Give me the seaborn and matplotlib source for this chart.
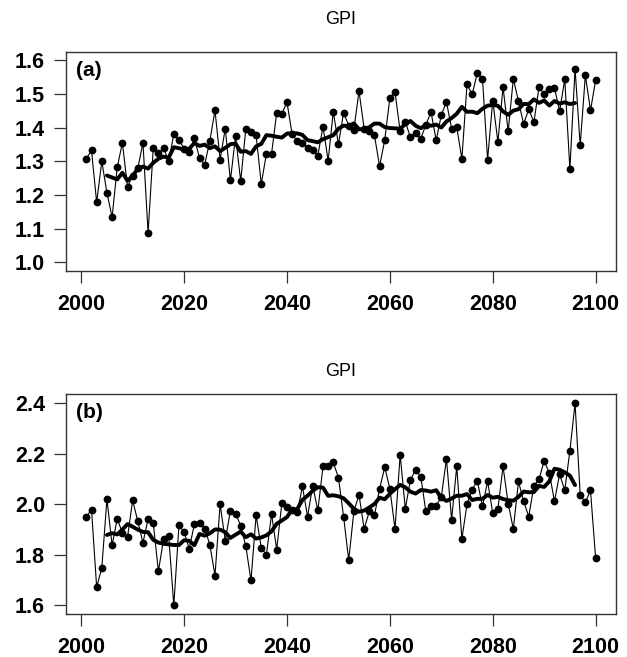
import numpy as np
import pandas as pd
import matplotlib
matplotlib.use("Agg")
import matplotlib.pyplot as plt
import seaborn as sns

# Annual index, 2001-2100
years = list(range(2001, 2101))

gpi_a = [
    1.308, 1.332, 1.178, 1.300, 1.206, 1.134, 1.282, 1.355, 1.224, 1.257,
    1.279, 1.355, 1.088, 1.338, 1.323, 1.340, 1.300, 1.380, 1.363, 1.337,
    1.326, 1.368, 1.310, 1.290, 1.360, 1.451, 1.305, 1.397, 1.243, 1.374,
    1.241, 1.397, 1.387, 1.377, 1.233, 1.322, 1.322, 1.444, 1.441, 1.475,
    1.380, 1.360, 1.355, 1.340, 1.332, 1.317, 1.403, 1.302, 1.447, 1.350,
    1.444, 1.406, 1.393, 1.508, 1.397, 1.391, 1.377, 1.285, 1.363, 1.488,
    1.505, 1.389, 1.416, 1.372, 1.384, 1.367, 1.408, 1.446, 1.362, 1.437,
    1.476, 1.397, 1.401, 1.307, 1.528, 1.498, 1.562, 1.545, 1.305, 1.480,
    1.357, 1.520, 1.389, 1.545, 1.478, 1.411, 1.454, 1.416, 1.520, 1.498,
    1.513, 1.518, 1.449, 1.543, 1.276, 1.575, 1.347, 1.555, 1.451, 1.540,
]

gpi_b = [
    1.952, 1.979, 1.672, 1.749, 2.021, 1.838, 1.943, 1.887, 1.870, 2.016,
    1.933, 1.848, 1.943, 1.926, 1.735, 1.861, 1.876, 1.600, 1.917, 1.891,
    1.825, 1.922, 1.926, 1.904, 1.841, 1.718, 2.001, 1.857, 1.975, 1.963,
    1.916, 1.834, 1.699, 1.957, 1.828, 1.801, 1.962, 1.821, 2.005, 1.988,
    1.979, 1.968, 2.071, 1.952, 2.074, 1.976, 2.150, 2.150, 2.166, 2.106,
    1.952, 1.779, 1.972, 2.038, 1.903, 1.972, 1.956, 2.061, 2.147, 2.062,
    1.903, 2.196, 1.983, 2.097, 2.137, 2.110, 1.972, 1.992, 1.995, 2.029,
    2.180, 1.940, 2.150, 1.864, 2.001, 2.058, 2.093, 1.992, 2.091, 1.966,
    1.982, 2.150, 2.003, 1.903, 2.091, 2.012, 1.952, 2.074, 2.100, 2.172,
    2.124, 2.012, 2.120, 2.055, 2.213, 2.400, 2.038, 2.008, 2.055, 1.787,
]

yticks_a = [1.0, 1.1, 1.2, 1.3, 1.4, 1.5, 1.6]
yticks_b = [1.6, 1.8, 2.0, 2.2, 2.4]
xticks = [2000, 2020, 2040, 2060, 2080, 2100]
panel_labels = ["(a)", "(b)"]
title = "GPI"
window = 9  # centred running mean length (years)

sns.set_style("ticks")
plt.rcParams["font.family"] = ["Liberation Sans", "DejaVu Sans"]
plt.rcParams["text.color"] = "black"

W, H = 627, 657
fig = plt.figure(figsize=(W / 100, H / 100), dpi=100)

def box(left, top, right, bottom):
    return [left / W, 1 - bottom / H, (right - left) / W, (bottom - top) / H]

ax_a = fig.add_axes(box(66, 52, 616, 270.5))
ax_b = fig.add_axes(box(66, 394, 616, 613.5))

frame_col = "#333333"

def draw_panel(ax, values, yticks, ylim, label):
    df = pd.DataFrame({"year": years, "gpi": values})
    df["smooth"] = df["gpi"].rolling(window, center=True).mean()
    sns.lineplot(data=df, x="year", y="gpi", ax=ax, color="black",
                 linewidth=0.8, marker="o", markersize=5.6,
                 markeredgewidth=0, markerfacecolor="black")
    sns.lineplot(data=df.dropna(), x="year", y="smooth", ax=ax,
                 color="black", linewidth=2.8)
    ax.set_xlim(1997.04, 2103.96)
    ax.set_ylim(*ylim)
    ax.set_xticks(xticks)
    ax.set_yticks(yticks)
    ax.set_yticklabels([f"{t:.1f}" for t in yticks])
    ax.set_xlabel("")
    ax.set_ylabel("")
    for s in ax.spines.values():
        s.set_visible(True)
        s.set_color(frame_col)
        s.set_linewidth(1.0)
    ax.tick_params(axis="both", direction="out", length=8.6, width=0.9,
                   color=frame_col, labelsize=15.5, labelcolor="black")
    ax.tick_params(axis="y", pad=6.5)
    ax.tick_params(axis="x", pad=8)
    for t in ax.get_xticklabels() + ax.get_yticklabels():
        t.set_fontweight("bold")
    ax.annotate(label, xy=(0, 1), xycoords="axes fraction",
                xytext=(10, -9), textcoords="offset pixels",
                ha="left", va="top", fontsize=15, fontweight="bold",
                color="black")

draw_panel(ax_a, gpi_a, yticks_a, (0.976, 1.624), panel_labels[0])
draw_panel(ax_b, gpi_b, yticks_b, (1.568, 2.437), panel_labels[1])

cx = (66 + 616) / 2 / W
fig.text(cx, 1 - 20 / H, title, ha="center", va="center", fontsize=13,
         color="black")
fig.text(cx, 1 - 371 / H, title, ha="center", va="center", fontsize=13,
         color="black")

fig.savefig("out.png", dpi=100, facecolor="white")
